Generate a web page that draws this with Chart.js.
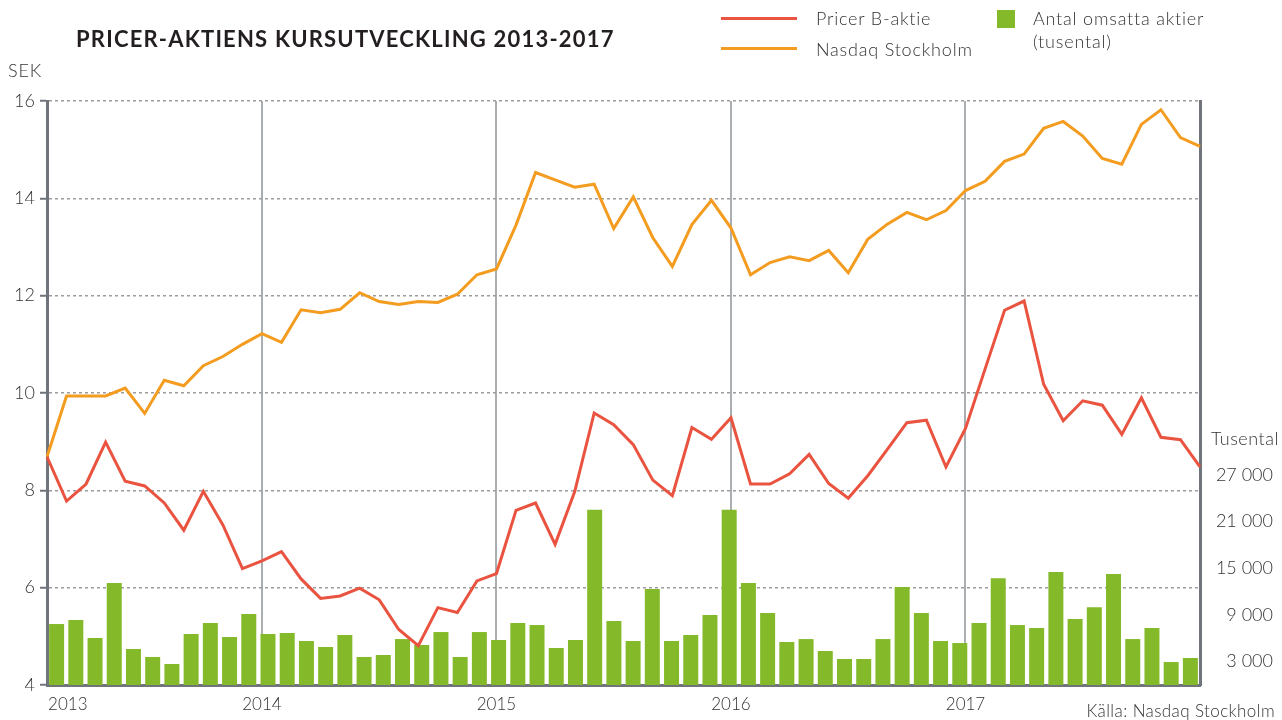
<!DOCTYPE html>
<html>
<head>
<meta charset="utf-8">
<script src="https://cdn.jsdelivr.net/npm/chart.js@4"></script>
<style>
    body { margin: 0; background: #fff; }
    #wrap { position: relative; width: 1282px; height: 720px; font-family: Lato, sans-serif; color: #333; }
    #wrap canvas { position: absolute; left: 0; top: 0; }
    .txt { position: absolute; white-space: nowrap; font-weight: 300; font-size: 18px; line-height: 1; letter-spacing: 0.8px; }
    .title { position: absolute; left: 76px; top: 25px; font-size: 22px; font-weight: 700; color: #231f20; letter-spacing: 1.2px; }
    .swatch { position: absolute; }
</style>
</head>
<body>
<div id="wrap">
    <canvas id="kursChart" width="1282" height="720"></canvas>
    <div class="title">PRICER-AKTIENS KURSUTVECKLING 2013-2017</div>
    <div class="txt" style="left:8px; top:61px;">SEK</div>
    <div class="swatch" style="left:721px; top:17px; width:76px; height:3px; background:#e9533f;"></div>
    <div class="txt" style="left:816px; top:9px;">Pricer B-aktie</div>
    <div class="swatch" style="left:721px; top:47px; width:76px; height:3px; background:#f39c1f;"></div>
    <div class="txt" style="left:816px; top:40px;">Nasdaq Stockholm</div>
    <div class="swatch" style="left:997px; top:10px; width:18px; height:18px; background:#84b92a;"></div>
    <div class="txt" style="left:1033px; top:9px;">Antal omsatta aktier</div>
    <div class="txt" style="left:1033px; top:32px;">(tusental)</div>
    <div class="txt" style="left:1211px; top:429px; letter-spacing:0.5px;">Tusental</div>
    <div class="txt" style="right:7px; top:702px; font-size:17px; letter-spacing:0.4px;">Källa: Nasdaq Stockholm</div>
</div>
<script>
// kurs i SEK, en punkt per månad
const pricerB = [
    8.69, 7.78, 8.13, 8.99, 8.19, 8.09, 7.74, 7.18, 7.98, 7.29,
    6.39, 6.55, 6.74, 6.18, 5.78, 5.83, 5.99, 5.75, 5.14, 4.81,
    5.59, 5.49, 6.14, 6.29, 7.59, 7.74, 6.89, 7.97, 9.59, 9.35,
    8.94, 8.21, 7.89, 9.29, 9.05, 9.49, 8.13, 8.13, 8.34, 8.74,
    8.14, 7.84, 8.30, 8.84, 9.39, 9.44, 8.48, 9.27, 10.49, 11.70,
    11.89, 10.18, 9.43, 9.84, 9.75, 9.15, 9.90, 9.09, 9.04, 8.48
];
const nasdaq = [
    8.69, 9.94, 9.94, 9.94, 10.10, 9.58, 10.26, 10.15, 10.56, 10.75,
    11.00, 11.22, 11.04, 11.71, 11.65, 11.72, 12.06, 11.88, 11.82, 11.88,
    11.86, 12.03, 12.43, 12.55, 13.45, 14.53, 14.38, 14.23, 14.29, 13.38,
    14.03, 13.19, 12.60, 13.46, 13.96, 13.39, 12.43, 12.68, 12.80, 12.72,
    12.93, 12.47, 13.16, 13.47, 13.71, 13.56, 13.75, 14.16, 14.35, 14.76,
    14.91, 15.44, 15.58, 15.28, 14.82, 14.70, 15.52, 15.82, 15.25, 15.07
];
// omsatta aktier, tusental
const volume = [
    7830, 8350, 6040, 13100, 4620, 3600, 2700, 6550, 7960, 6160,
    9120, 6550, 6680, 5650, 4880, 6420, 3600, 3850, 5900, 5140,
    6800, 3600, 6800, 5780, 7960, 7700, 4750, 5780, 22500, 8220,
    5650, 12330, 5650, 6420, 8990, 22500, 13100, 9250, 5520, 5900,
    4370, 3340, 3340, 5900, 12600, 9250, 5650, 5390, 7960, 13700,
    7700, 7320, 14500, 8480, 10000, 14250, 5900, 7320, 2950, 3470
];

const yearIndex = [0, 11, 23, 35, 47];
const yearLabels = ["2013", "2014", "2015", "2016", "2017"];
const sekTicks = [4, 6, 8, 10, 12, 14, 16];
const volTicks = [3000, 9000, 15000, 21000, 27000];

const colors = {
    pricer: "#e9533f",
    nasdaq: "#f39c1f",
    volume: "#84b92a",
    axis: "#6f757a",
    yearLine: "#a9aeb2",
    grid: "#9c9c9c",
    text: "#333333",
};

// månader som kategorier
const months = [];
for (let i = 0; i < pricerB.length; i++) {
    months.push("m" + i);
}

const tickFont = { family: "Lato", size: 18, weight: 300 };

function formatThousands(v) {
    return String(v).replace(/\B(?=(\d{3})+(?!\d))/g, " ");
}

function noPadding(axis) {
    axis.paddingLeft = 0;
    axis.paddingRight = 0;
}

const ctx = document.getElementById("kursChart").getContext("2d");

new Chart(ctx, {
    data: {
        labels: months,
        datasets: [
            {
                type: "line",
                label: "Pricer B-aktie",
                data: pricerB,
                borderColor: colors.pricer,
                borderWidth: 3,
                pointRadius: 0,
                tension: 0,
                xAxisID: "x",
                yAxisID: "y",
                order: 1,
            },
            {
                type: "line",
                label: "Nasdaq Stockholm",
                data: nasdaq,
                borderColor: colors.nasdaq,
                borderWidth: 3,
                pointRadius: 0,
                tension: 0,
                xAxisID: "x",
                yAxisID: "y",
                order: 2,
            },
            {
                type: "bar",
                label: "Antal omsatta aktier (tusental)",
                data: volume,
                backgroundColor: colors.volume,
                grouped: false,
                categoryPercentage: 1,
                barPercentage: 0.78,
                xAxisID: "xBar",
                yAxisID: "yVol",
                order: 3,
            },
        ],
    },
    options: {
        responsive: false,
        animation: false,
        layout: {
            autoPadding: false,
            padding: { top: 101, left: 0, right: 9, bottom: 0 },
        },
        plugins: {
            legend: { display: false },
            tooltip: { enabled: false },
        },
        scales: {
            x: {
                type: "category",
                offset: false,
                position: "bottom",
                grid: {
                    color: (c) => (yearIndex.includes(c.index) && c.index > 0 ? colors.yearLine : "transparent"),
                    lineWidth: 2,
                    drawTicks: false,
                },
                border: { display: true, color: colors.axis, width: 3 },
                ticks: {
                    autoSkip: false,
                    maxRotation: 0,
                    padding: 9,
                    color: colors.text,
                    font: { family: "Lato", size: 17, weight: 300 },
                    callback: function (val, index) {
                        const k = yearIndex.indexOf(index);
                        if (k < 0) return "";
                        // första året vänsterställt mot axeln
                        return k === 0 ? "         " + yearLabels[k] : yearLabels[k];
                    },
                },
                afterFit: (axis) => {
                    axis.height = 35;
                    noPadding(axis);
                },
            },
            // egen kategoriaxel för staplarna, 60 lika breda fack över hela bredden
            xBar: {
                type: "category",
                offset: true,
                position: "bottom",
                grid: { display: false, drawTicks: false },
                border: { display: false },
                ticks: { display: false },
                afterFit: (axis) => {
                    axis.height = 0;
                    noPadding(axis);
                },
            },
            y: {
                position: "left",
                min: 4,
                max: 16,
                afterBuildTicks: (axis) => { axis.ticks = sekTicks.map((v) => ({ value: v })); },
                grid: {
                    color: colors.grid,
                    lineWidth: 1.5,
                    tickColor: colors.axis,
                    tickWidth: 2,
                    tickLength: 7,
                },
                border: { display: true, color: colors.axis, width: 3, dash: [3, 3] },
                ticks: {
                    padding: 5,
                    color: colors.text,
                    font: tickFont,
                },
                afterFit: (axis) => { axis.width = 47; },
            },
            yVol: {
                position: "right",
                min: 0,
                max: 75000,
                afterBuildTicks: (axis) => { axis.ticks = volTicks.map((v) => ({ value: v })); },
                grid: { display: false, drawTicks: false, drawOnChartArea: false },
                border: { display: true, color: colors.axis, width: 3 },
                ticks: {
                    padding: 10,
                    crossAlign: "far",
                    color: colors.text,
                    font: tickFont,
                    callback: (v) => formatThousands(v),
                },
                afterFit: (axis) => { axis.width = 73; },
            },
        },
    },
});
</script>
</body>
</html>
